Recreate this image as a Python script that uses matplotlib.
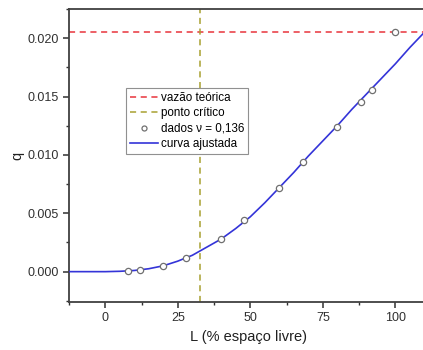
import matplotlib
matplotlib.use("Agg")
import matplotlib.pyplot as plt
from matplotlib.ticker import MultipleLocator, FormatStrFormatter

plt.rcParams['font.family'] = ['Liberation Sans', 'DejaVu Sans']

# measured points
L_dados = [8, 12, 20, 28, 40, 48, 60, 68, 80, 88, 92, 100]
q_dados = [0.00005, 0.0001, 0.0005, 0.0012, 0.0028, 0.0044, 0.0072,
           0.0094, 0.0124, 0.01455, 0.0156, 0.0205]

# fitted curve samples
L_curva = [-12.5, -5, 0, 5, 10, 15, 20, 25, 30, 35, 40, 45, 50, 55, 60,
           65, 70, 75, 80, 85, 90, 95, 100, 105, 110]
q_curva = [0.0, 0.0, 0.0, 0.00003, 0.0001, 0.00025, 0.0005, 0.0009,
           0.0014, 0.0021, 0.0028, 0.0037, 0.0047, 0.0059, 0.0072,
           0.0085, 0.0099, 0.0112, 0.0125, 0.0139, 0.0152, 0.0165,
           0.0178, 0.0192, 0.0205]

q_teorica = 0.0205
L_critico = 32.5

fig = plt.figure(figsize=(4.23, 3.5), dpi=100)
ax = fig.add_axes([69 / 423, 48 / 350, (423 - 69) / 423 + 0.01, 293 / 350])

ax.axhline(q_teorica, color='#e8343c', ls=(0, (4, 3)), lw=1.1, label='vazão teórica', zorder=2)
ax.axvline(L_critico, color='#a8a030', ls=(0, (4, 3)), lw=1.1, label='ponto crítico', zorder=2)
ax.plot(L_curva, q_curva, color='#3434d8', lw=1.2, zorder=3, label='_curva')
ax.plot(L_dados, q_dados, 'o', ms=4.5, mfc='white', mec='#707070', mew=0.9,
        ls='none', label='dados ν = 0,136', zorder=4)
ax.plot([], [], color='#3434d8', lw=1.2, label='curva ajustada')

ax.set_xlim(-12.5, 111)
ax.set_ylim(-0.0026, 0.0225)
ax.xaxis.set_major_locator(MultipleLocator(25))
ax.xaxis.set_minor_locator(MultipleLocator(12.5))
ax.yaxis.set_major_locator(MultipleLocator(0.005))
ax.yaxis.set_minor_locator(MultipleLocator(0.0025))
ax.yaxis.set_major_formatter(FormatStrFormatter('%.3f'))
ax.tick_params(which='major', direction='out', length=4, width=1.1, labelsize=9, colors='#303030')
ax.tick_params(which='minor', direction='out', length=2.5, width=1.0, colors='#303030')
for s in ax.spines.values():
    s.set_color('#404040')
    s.set_linewidth(1.3)

ax.set_xlabel('L (% espaço livre)', fontsize=10.5, labelpad=4, color='#202020')
ax.set_ylabel('q', fontsize=10.5, labelpad=2, color='#202020')

leg = ax.legend(loc='upper left', bbox_to_anchor=(0.16, 0.73), fontsize=8.4,
                frameon=True, fancybox=False, edgecolor='#909090', framealpha=1,
                borderpad=0.3, labelspacing=0.3, handlelength=2.4,
                handletextpad=0.3, borderaxespad=0, markerscale=0.8)
leg.get_frame().set_linewidth(0.8)

fig.savefig('out.png', dpi=100)
